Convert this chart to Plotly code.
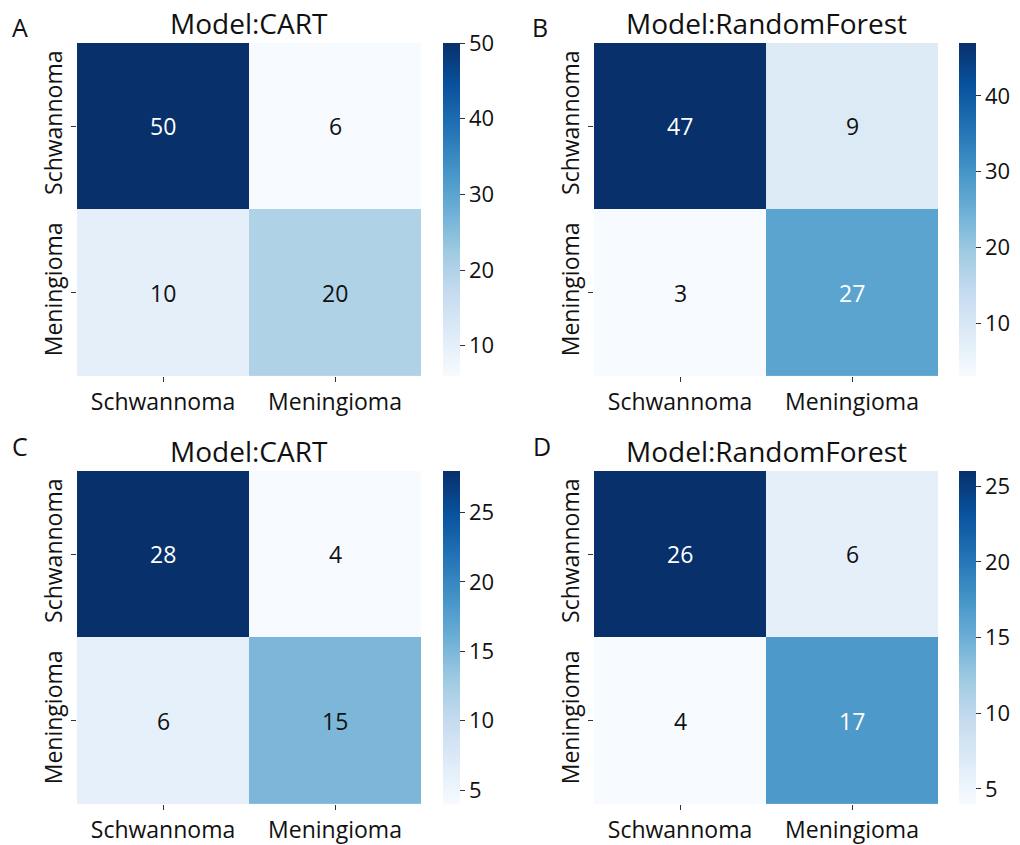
import plotly.graph_objects as go

# Confusion matrices (rows: true class, columns: predicted class)
classes = ["Schwannoma", "Meningioma"]
cm_a = [[50, 6], [10, 20]]
cm_b = [[47, 9], [3, 27]]
cm_c = [[28, 4], [6, 15]]
cm_d = [[26, 6], [4, 17]]
titles = ["Model:CART", "Model:RandomForest", "Model:CART", "Model:RandomForest"]
letters = ["A", "B", "C", "D"]
cbar_dticks = [10, 10, 5, 5]

blues = ["rgb(247,251,255)", "rgb(222,235,247)", "rgb(198,219,239)",
         "rgb(158,202,225)", "rgb(107,174,214)", "rgb(66,146,198)",
         "rgb(33,113,181)", "rgb(8,81,156)", "rgb(8,48,107)"]
colorscale = [[i / (len(blues) - 1), c] for i, c in enumerate(blues)]

W, H = 1020, 845
FONT = "Open Sans"
INK = "#111"

# pixel boxes of each heatmap: (left, right, top, bottom)
boxes = [(77, 421, 43, 377), (594, 938, 43, 377),
         (77, 421, 472, 806), (594, 938, 472, 806)]
cbar_left = [443, 959, 443, 959]
letter_pos = [(20, 27), (540, 27), (20, 447), (542, 447)]

fig = go.Figure()
annotations = []
for k, (cm, box) in enumerate(zip([cm_a, cm_b, cm_c, cm_d], boxes)):
    l, r, t, b = box
    n = k + 1
    xa = "x" if n == 1 else f"x{n}"
    ya = "y" if n == 1 else f"y{n}"
    flat = [v for row in cm for v in row]
    zmin, zmax = min(flat), max(flat)
    fig.add_trace(go.Heatmap(
        z=cm, x=classes, y=classes, xaxis=xa, yaxis=ya,
        zmin=zmin, zmax=zmax, colorscale=colorscale, hoverinfo="skip",
        colorbar=dict(
            x=cbar_left[k] / W, xanchor="left", xref="paper", xpad=0,
            y=1 - (t + b) / 2 / H, yanchor="middle", ypad=0,
            len=(b - t) / H, lenmode="fraction",
            thickness=17, thicknessmode="pixels",
            outlinewidth=0, ticks="outside", ticklen=5, tickwidth=1,
            tickcolor="#333", dtick=cbar_dticks[k], tick0=0,
            tickfont=dict(family=FONT, size=22, color=INK),
        ),
    ))
    axx = dict(domain=[l / W, r / W], anchor=ya, ticks="outside", ticklen=5,
               tickcolor="#333", showgrid=False, zeroline=False, showline=False,
               tickfont=dict(family=FONT, size=23, color=INK))
    axy = dict(domain=[1 - b / H, 1 - t / H], anchor=xa, ticks="outside",
               ticklen=5, tickcolor="#333", showgrid=False, zeroline=False,
               showline=False, autorange="reversed", tickangle=-90,
               tickfont=dict(family=FONT, size=23, color=INK))
    fig.layout["xaxis" if n == 1 else f"xaxis{n}"] = axx
    fig.layout["yaxis" if n == 1 else f"yaxis{n}"] = axy

    # cell value labels
    for i, row in enumerate(cm):
        for j, v in enumerate(row):
            frac = (v - zmin) / (zmax - zmin)
            annotations.append(dict(
                x=classes[j], y=classes[i], xref=xa, yref=ya, text=str(v),
                showarrow=False,
                font=dict(family=FONT, size=23,
                          color="white" if frac > 0.5 else INK)))
    # panel title
    annotations.append(dict(
        x=(l + r) / 2 / W, y=1 - (t - 20) / H, xref="paper", yref="paper",
        text=titles[k], showarrow=False, xanchor="center", yanchor="middle",
        font=dict(family=FONT, size=28, color=INK)))
    # panel letter
    lx, ly = letter_pos[k]
    annotations.append(dict(
        x=lx / W, y=1 - ly / H, xref="paper", yref="paper",
        text=letters[k], showarrow=False, xanchor="center", yanchor="middle",
        font=dict(family=FONT, size=25, color=INK)))

fig.update_layout(
    width=W, height=H, margin=dict(l=0, r=0, t=0, b=0),
    paper_bgcolor="white", plot_bgcolor="white",
    annotations=annotations, showlegend=False,
)
fig.write_html("out.html")
